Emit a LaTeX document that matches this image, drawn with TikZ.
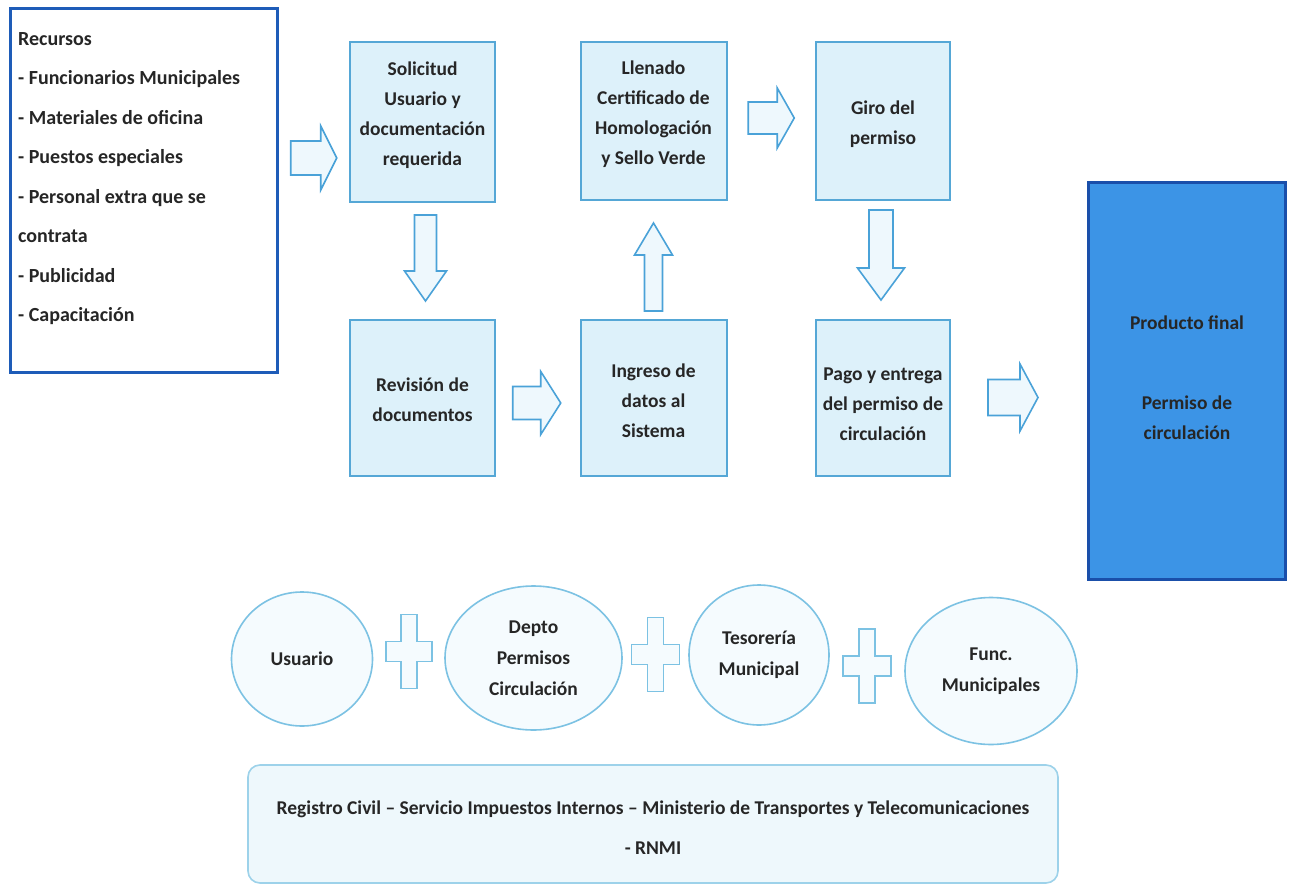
\documentclass[tikz,border=0pt]{standalone}
\usepackage{fontspec}
\setmainfont{Carlito}
\usetikzlibrary{calc,shapes.geometric}

\definecolor{boxfill}{HTML}{DDF1FA}
\definecolor{boxline}{HTML}{55A7D6}
\definecolor{recline}{HTML}{1E5CB8}
\definecolor{prodfill}{HTML}{3C94E6}
\definecolor{prodline}{HTML}{1A4FAA}
\definecolor{arrline}{HTML}{4AA2D8}
\definecolor{arrfill}{HTML}{EEF8FD}
\definecolor{circline}{HTML}{7CC2E3}
\definecolor{circfill}{HTML}{F5FBFE}
\definecolor{orgfill}{HTML}{EEF8FC}
\definecolor{orgline}{HTML}{9DD2EA}
\definecolor{ink}{HTML}{262626}

\tikzset{
  txt/.style={text=ink, font=\bfseries\fontsize{19.5}{30}\selectfont, align=center, inner sep=0pt},
  stepbox/.style={draw=boxline, line width=2pt, fill=boxfill, inner sep=0pt},
  recbox/.style={draw=recline, line width=3pt, fill=white, inner sep=0pt},
  prodbox/.style={draw=prodline, line width=3pt, fill=prodfill, inner sep=0pt},
  actor/.style={ellipse, draw=circline, line width=1.6pt, fill=circfill, inner sep=0pt,
    text=ink, font=\bfseries\fontsize{19.5}{31}\selectfont, align=center},
  orgbox/.style={draw=orgline, line width=1.6pt, fill=orgfill, rounded corners=12pt,
    inner sep=0pt},
  blockarr/.style={draw=arrline, line width=1.6pt, fill=arrfill, line join=miter},
  plusmark/.style={draw=circline, line width=1.6pt, fill=circfill},
  % block arrow pointing along +x: length, head width, shaft width, head length
  pics/barrow/.style n args={4}{code={
    \path[blockarr] ({-#1/2},{-#3/2}) -- ({#1/2-#4},{-#3/2}) -- ({#1/2-#4},{-#2/2})
      -- ({#1/2},0) -- ({#1/2-#4},{#2/2}) -- ({#1/2-#4},{#3/2}) -- ({-#1/2},{#3/2}) -- cycle;
  }},
  % plus sign: half width, half height, half thickness of the upright bar, of the cross bar
  pics/plussign/.style n args={4}{code={
    \path[plusmark] ({-#3},{-#2}) -- ({#3},{-#2}) -- ({#3},{-#4}) -- ({#1},{-#4})
      -- ({#1},{#4}) -- ({#3},{#4}) -- ({#3},{#2}) -- ({-#3},{#2}) -- ({-#3},{#4})
      -- ({-#1},{#4}) -- ({-#1},{-#4}) -- ({-#3},{-#4}) -- cycle;
  }},
}

\begin{document}
\begin{tikzpicture}[x=1pt,y=-1pt]
\useasboundingbox[fill=white] (0,0) rectangle (1291,886);

% resources
\node[recbox, minimum width=267pt, minimum height=364pt] (rec) at (143.5,190) {};
\node[txt, align=left, anchor=north west, font=\bfseries\fontsize{20}{39.5}\selectfont] (rectext) at (18,32)
  {Recursos\\
   - Funcionarios Municipales\\
   - Materiales de oficina\\
   - Puestos especiales\\
   - Personal extra que se\\
   contrata\\
   - Publicidad\\
   - Capacitación};

% process steps
\node[stepbox, minimum width=145pt, minimum height=160pt] (sol) at (422.5,122) {};
\node[stepbox, minimum width=146pt, minimum height=158pt] (lle) at (653.5,121) {};
\node[stepbox, minimum width=134pt, minimum height=158pt] (giro) at (883,121) {};
\node[stepbox, minimum width=145pt, minimum height=156pt] (rev) at (422.5,398) {};
\node[stepbox, minimum width=146pt, minimum height=156pt] (ing) at (653.5,398) {};
\node[stepbox, minimum width=134pt, minimum height=156pt] (pago) at (883,398) {};
\node[prodbox, minimum width=197pt, minimum height=397pt] (prod) at (1187,381) {};

\node[txt] (sol-t) at (422.5,115) {Solicitud\\Usuario y\\documentación\\requerida};
\node[txt] (lle-t) at (653.5,114) {Llenado\\Certificado de\\Homologación\\y Sello Verde};
\node[txt] (giro-t) at (883,124) {Giro del\\permiso};
\node[txt] (rev-t) at (422.5,400) {Revisión de\\documentos};
\node[txt] (ing-t) at (653.5,401) {Ingreso de\\datos al\\Sistema};
\node[txt] (pago-t) at (883,404) {Pago y entrega\\del permiso de\\circulación};
\node[txt] (prod-t) at (1187,378) {Producto final\\[50pt]Permiso de\\circulación};

% flow arrows
\pic at ($(rec.east)!0.5!(sol.west)+(0,2)$) {barrow={46}{64}{34}{16}};
\pic[rotate=-90] at ($(sol.south)!0.5!(rev.north)+(3,-3)$) {barrow={86}{42}{22}{30}};
\pic at ($(rev.east)!0.5!(ing.west)+(-1,5)$) {barrow={48}{63}{33}{20}};
\pic[rotate=90] at ($(ing.north)!0.5!(lle.south)+(0,7)$) {barrow={88}{38}{18}{32}};
\pic at ($(lle.east)!0.5!(giro.west)+(0,-3)$) {barrow={46}{60}{32}{17}};
\pic[rotate=-90] at ($(giro.south)!0.5!(pago.north)+(-2,-5)$) {barrow={90}{47}{24}{32}};
\pic at ($(pago.east)!0.5!(prod.west)+(-6,8)$) {barrow={50}{67}{36}{18}};

% participants
\node[actor, minimum width=141pt, minimum height=134pt] (usu) at (302,659) {Usuario};
\node[actor, minimum width=177pt, minimum height=144pt] (dep) at (533.5,658) {Depto\\Permisos\\Circulación};
\node[actor, minimum width=140pt, minimum height=140pt] (tes) at (759,655) {Tesorería\\Municipal};
\node[actor, minimum width=172pt, minimum height=147pt] (fun) at (991,671) {Func.\\Municipales};

\pic at ($(usu.east)!0.5!(dep.west)+(0,-7)$) {plussign={23}{37}{8}{10}};
\pic at ($(dep.east)!0.5!(tes.west)+(0,-2)$) {plussign={24}{37}{8}{10}};
\pic at ($(tes.east)!0.5!(fun.west)+(0,3)$) {plussign={24}{37}{8}{10}};

% supporting institutions
\node[orgbox, minimum width=810pt, minimum height=118pt] (org) at (653,824) {};
\node[txt, font=\bfseries\fontsize{19.5}{40}\selectfont] (org-t) at (653,828)
  {Registro Civil – Servicio Impuestos Internos – Ministerio de Transportes y Telecomunicaciones\\- RNMI};
\end{tikzpicture}
\end{document}
